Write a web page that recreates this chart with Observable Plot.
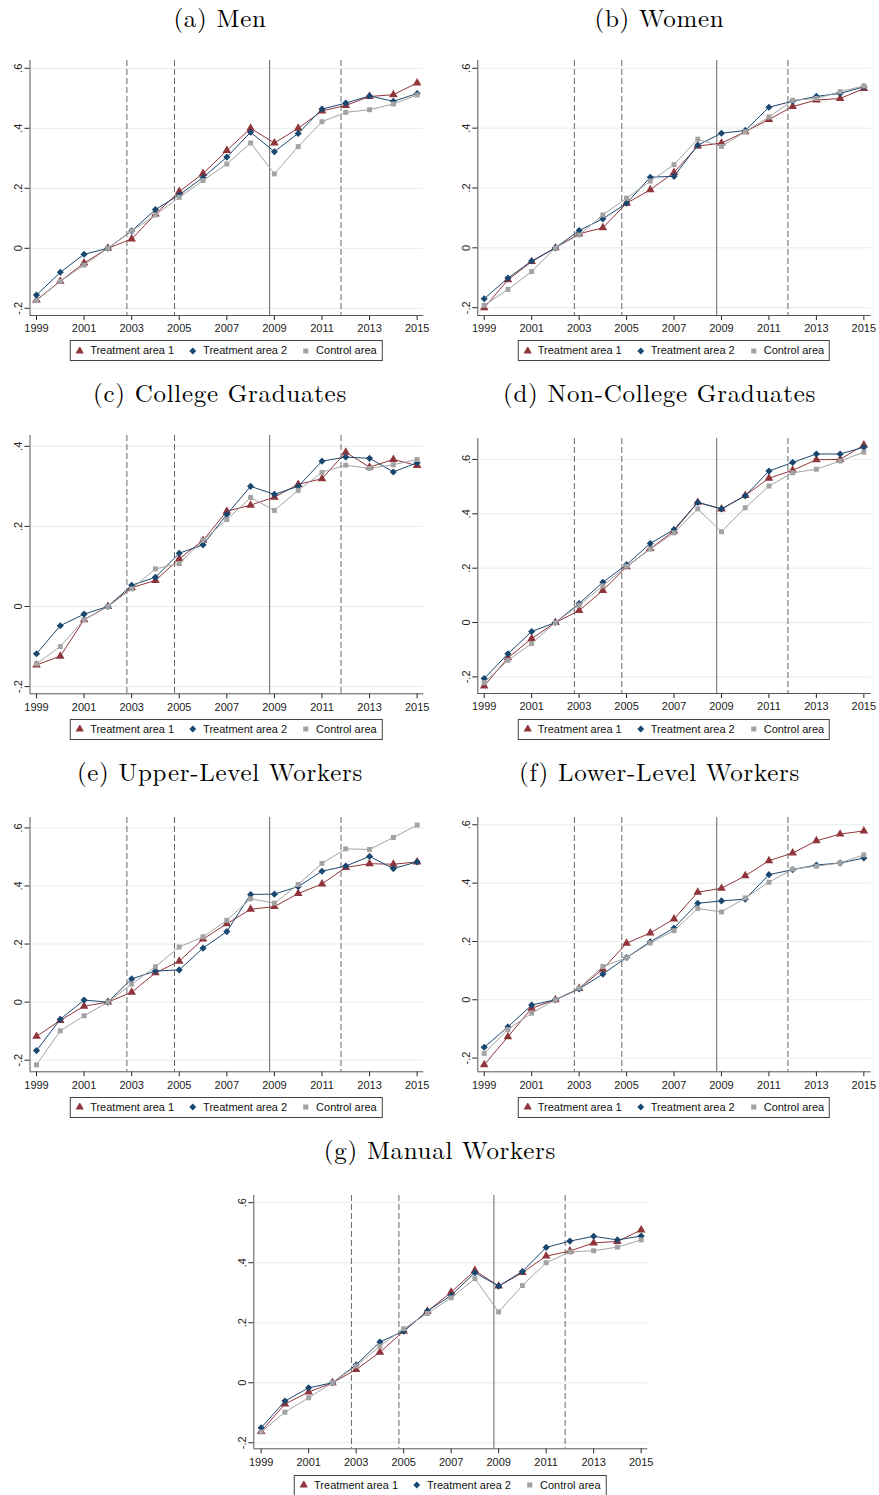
<!DOCTYPE html>
<html><head><meta charset="utf-8">
<script src="https://cdn.jsdelivr.net/npm/d3@7"></script>
<script src="https://cdn.jsdelivr.net/npm/@observablehq/plot@0.6"></script>
<style>
body{margin:0;background:#fff;}
#root{position:relative;width:879px;height:1495px;overflow:hidden;background:#fff;}
.title{position:absolute;text-align:center;font-family:"Latin Modern Roman","CMU Serif","Liberation Serif","Times New Roman",serif;font-size:25px;letter-spacing:0.7px;line-height:26px;color:#000;white-space:nowrap;}
.legend{position:absolute;transform:translateX(-50%);border:1px solid #444;padding:3px 5px;display:flex;align-items:center;font-family:"Liberation Sans",Arial,sans-serif;font-size:11px;line-height:13px;color:#111;white-space:nowrap;background:#fff;}
.legend .item{display:flex;align-items:center;}
.legend .item + .item{margin-left:15px;}
.legend svg{margin-right:6px;display:block;}
.panel{position:absolute;}
</style></head><body><div id="root"></div>
<script>
// ---------------- data ----------------
const years = [1999,2000,2001,2002,2003,2004,2005,2006,2007,2008,2009,2010,2011,2012,2013,2014,2015];
const yearTicks = [1999,2001,2003,2005,2007,2009,2011,2013,2015];
const valueTicks = [-0.2,0,0.2,0.4,0.6];
const dashedLines = [2002.8,2004.8,2011.8];
const solidLines = [2008.8];
const seriesNames = ["Treatment area 1","Treatment area 2","Control area"];
const panelTitles = ["(a) Men","(b) Women","(c) College Graduates","(d) Non-College Graduates","(e) Upper-Level Workers","(f) Lower-Level Workers","(g) Manual Workers"];

const men_t1   = [-0.172,-0.110,-0.049,0,0.031,0.114,0.189,0.249,0.326,0.400,0.351,0.400,0.458,0.476,0.506,0.512,0.551];
const men_t2   = [-0.156,-0.080,-0.020,0,0.058,0.129,0.178,0.236,0.304,0.387,0.322,0.383,0.464,0.484,0.508,0.490,0.516];
const men_c    = [-0.174,-0.110,-0.056,0,0.058,0.111,0.170,0.226,0.281,0.351,0.248,0.339,0.422,0.453,0.462,0.481,0.511];

const women_t1 = [-0.200,-0.107,-0.046,0,0.047,0.067,0.149,0.194,0.252,0.340,0.350,0.388,0.429,0.472,0.494,0.499,0.532];
const women_t2 = [-0.170,-0.101,-0.044,0,0.058,0.097,0.149,0.236,0.239,0.343,0.383,0.392,0.470,0.490,0.506,0.516,0.538];
const women_c  = [-0.192,-0.139,-0.079,0,0.043,0.110,0.166,0.223,0.278,0.363,0.339,0.388,0.437,0.493,0.499,0.522,0.541];

const coll_t1  = [-0.146,-0.124,-0.033,0,0.047,0.065,0.119,0.165,0.238,0.253,0.273,0.305,0.319,0.385,0.348,0.367,0.352];
const coll_t2  = [-0.118,-0.048,-0.019,0,0.053,0.073,0.133,0.154,0.230,0.300,0.280,0.300,0.363,0.373,0.370,0.336,0.359];
const coll_c   = [-0.143,-0.100,-0.033,0,0.044,0.094,0.107,0.165,0.217,0.272,0.240,0.290,0.335,0.353,0.345,0.354,0.367];

const noncoll_t1 = [-0.233,-0.130,-0.059,0,0.044,0.118,0.205,0.272,0.337,0.442,0.418,0.467,0.531,0.560,0.599,0.600,0.653];
const noncoll_t2 = [-0.206,-0.115,-0.033,0,0.070,0.148,0.213,0.291,0.342,0.442,0.418,0.466,0.557,0.589,0.620,0.620,0.645];
const noncoll_c  = [-0.221,-0.139,-0.077,0,0.064,0.135,0.207,0.270,0.330,0.418,0.334,0.422,0.502,0.551,0.564,0.594,0.627];

const upper_t1 = [-0.118,-0.063,-0.014,0,0.034,0.101,0.141,0.217,0.270,0.320,0.329,0.374,0.407,0.464,0.477,0.475,0.483];
const upper_t2 = [-0.167,-0.059,0.007,0,0.080,0.107,0.111,0.186,0.243,0.371,0.372,0.398,0.451,0.469,0.502,0.460,0.483];
const upper_c  = [-0.216,-0.099,-0.047,0,0.062,0.122,0.190,0.225,0.282,0.356,0.341,0.405,0.478,0.528,0.526,0.567,0.610];

const lower_t1 = [-0.223,-0.127,-0.029,0,0.039,0.105,0.194,0.229,0.277,0.369,0.382,0.425,0.477,0.503,0.545,0.568,0.579];
const lower_t2 = [-0.163,-0.093,-0.018,0,0.037,0.088,0.145,0.199,0.246,0.331,0.339,0.345,0.429,0.446,0.462,0.469,0.486];
const lower_c  = [-0.184,-0.102,-0.046,0,0.040,0.114,0.144,0.195,0.237,0.313,0.301,0.349,0.403,0.448,0.458,0.469,0.497];

const manual_t1 = [-0.162,-0.071,-0.031,0,0.044,0.102,0.172,0.238,0.302,0.374,0.322,0.367,0.422,0.439,0.466,0.471,0.509];
const manual_t2 = [-0.150,-0.061,-0.017,0,0.060,0.136,0.172,0.239,0.291,0.367,0.322,0.371,0.451,0.472,0.488,0.476,0.489];
const manual_c  = [-0.164,-0.098,-0.050,0,0.056,0.122,0.180,0.231,0.283,0.347,0.236,0.324,0.400,0.436,0.440,0.452,0.476];

// ---------------- styling / layout ----------------
const colors = ["#90353b","#1a476f","#a3a3a3"];
const symbols = ["triangle","diamond2","square"];
const radii = [3.2,3.2,2.8];

const panels = [
  {title:panelTitles[0], series:[men_t1,men_t2,men_c], left:0,   W:440, titleTop:4,    xL:29.5,  xR:423.3, yT:60,    yB:315,    xDom:[1998.727,2015.28], yDom:[-0.224,0.626], legTop:340},
  {title:panelTitles[1], series:[women_t1,women_t2,women_c], left:440, W:439, titleTop:4,    xL:477.3, xR:870.7, yT:60,    yB:315,    xDom:[1998.73,2015.31],  yDom:[-0.226,0.626], legTop:340},
  {title:panelTitles[2], series:[coll_t1,coll_t2,coll_c], left:0,   W:440, titleTop:379,  xL:29.5,  xR:423.3, yT:435,   yB:693.3,  xDom:[1998.727,2015.28], yDom:[-0.218,0.427], legTop:718.5},
  {title:panelTitles[3], series:[noncoll_t1,noncoll_t2,noncoll_c], left:440, W:439, titleTop:379,  xL:477.3, xR:870.7, yT:438.3, yB:693.3,  xDom:[1998.73,2015.31],  yDom:[-0.261,0.677], legTop:718.5},
  {title:panelTitles[4], series:[upper_t1,upper_t2,upper_c], left:0,   W:440, titleTop:758,  xL:29.5,  xR:423.3, yT:816.7, yB:1071,   xDom:[1998.727,2015.28], yDom:[-0.240,0.636], legTop:1096.5},
  {title:panelTitles[5], series:[lower_t1,lower_t2,lower_c], left:440, W:439, titleTop:758,  xL:477.3, xR:870.7, yT:816.7, yB:1071,   xDom:[1998.73,2015.31],  yDom:[-0.247,0.625], legTop:1096.5},
  {title:panelTitles[6], series:[manual_t1,manual_t2,manual_c], left:220, W:440, titleTop:1136, xL:253.3, xR:647.3, yT:1195,  yB:1448.3, xDom:[1998.69,2015.28],  yDom:[-0.220,0.624], legTop:1474.5}
];

const fmtY = v => v === 0 ? "0" : (v < 0 ? "-" : "") + "." + Math.round(Math.abs(v) * 10);

const root = document.getElementById("root");

function symbolPath(name, size) {
  const t = {triangle: d3.symbolTriangle, diamond2: d3.symbolDiamond2, square: d3.symbolSquare}[name];
  return d3.symbol().type(t).size(size)();
}

for (const p of panels) {
  // title
  const t = document.createElement("div");
  t.className = "title";
  t.textContent = p.title;
  t.style.left = p.left + "px";
  t.style.width = p.W + "px";
  t.style.top = p.titleTop + "px";
  root.appendChild(t);

  // plot
  const mT = 10, mB = 26;
  const mL = p.xL - p.left, mR = p.left + p.W - p.xR;
  const yt = valueTicks.filter(v => v >= p.yDom[0] && v <= p.yDom[1]);
  const marks = [
    Plot.ruleY(yt, {stroke: "#e3edef", strokeWidth: 1}),
    Plot.ruleX(dashedLines, {stroke: "#666", strokeWidth: 1, strokeDasharray: "6,3"}),
    Plot.ruleX(solidLines, {stroke: "#666", strokeWidth: 1}),
    Plot.ruleX([p.xDom[0]], {stroke: "#555", strokeWidth: 1}),
    Plot.ruleY([p.yDom[0]], {stroke: "#555", strokeWidth: 1})
  ];
  p.series.forEach((arr, k) => {
    const rows = years.map((yr, i) => ({year: yr, value: arr[i]}));
    marks.push(Plot.line(rows, {x: "year", y: "value", stroke: colors[k], strokeWidth: 1}));
    marks.push(Plot.dot(rows, {x: "year", y: "value", symbol: symbols[k], r: radii[k], fill: colors[k], stroke: "none"}));
  });
  const svg = Plot.plot({
    width: p.W,
    height: (p.yB - p.yT) + mT + mB,
    marginLeft: mL, marginRight: mR, marginTop: mT, marginBottom: mB,
    style: {fontFamily: "'Liberation Sans', Arial, sans-serif", fontSize: "11px", color: "#222", background: "transparent", overflow: "visible"},
    x: {type: "linear", domain: p.xDom, ticks: yearTicks, tickFormat: d => String(d), tickSize: 5, label: null},
    y: {type: "linear", domain: p.yDom, ticks: yt, tickFormat: fmtY, tickSize: 5, tickPadding: 3, tickRotate: -90, label: null},
    marks
  });
  const wrap = document.createElement("div");
  wrap.className = "panel";
  wrap.style.left = p.left + "px";
  wrap.style.top = (p.yT - mT) + "px";
  wrap.appendChild(svg);
  root.appendChild(wrap);

  // legend
  const lg = document.createElement("div");
  lg.className = "legend";
  lg.style.left = ((p.xL + p.xR) / 2) + "px";
  lg.style.top = p.legTop + "px";
  seriesNames.forEach((name, k) => {
    const it = document.createElement("div");
    it.className = "item";
    const sz = k === 2 ? 26 : 30;
    it.innerHTML = `<svg width="8" height="8" viewBox="-4 -4 8 8"><path d="${symbolPath(symbols[k], sz)}" fill="${colors[k]}"></path></svg><span>${name}</span>`;
    lg.appendChild(it);
  });
  root.appendChild(lg);
}
</script>
</body></html>
